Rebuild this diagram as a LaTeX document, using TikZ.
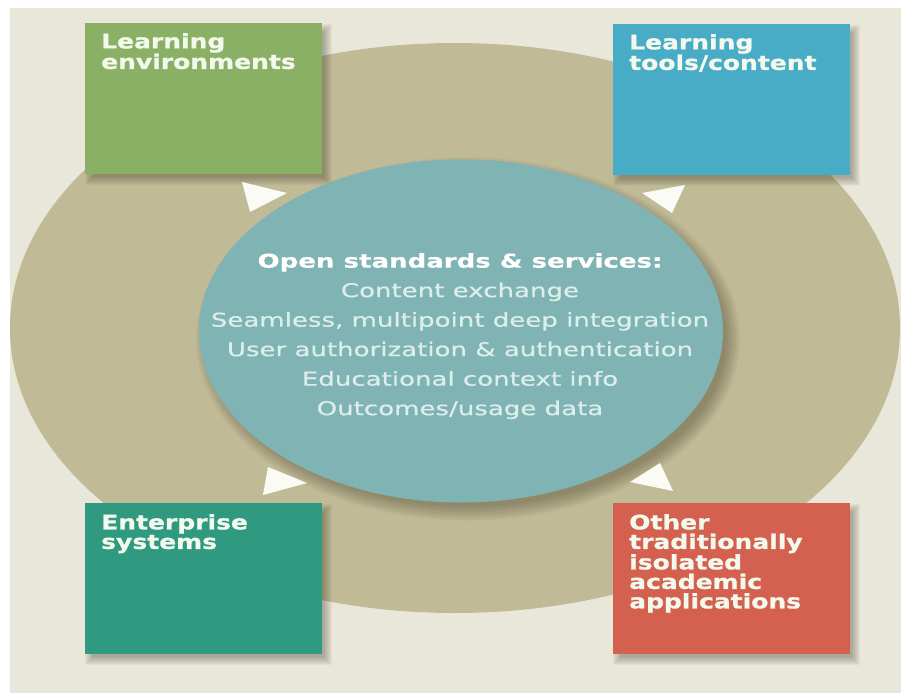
\documentclass[tikz,border=0pt]{standalone}
\usepackage{fontspec}
\newfontfamily\diafont[FakeStretch=1.37,FakeBold=0.6]{DejaVu Sans}
\newfontfamily\boxfont[FakeStretch=1.25,FakeBold=1.0]{DejaVu Sans}
\usetikzlibrary{shapes.geometric}
\pgfdeclarelayer{background}
\pgfsetlayers{background,main}
\definecolor{bgwhite}{HTML}{FFFFFF}
\definecolor{beige}{HTML}{E9E6DA}
\definecolor{ringolive}{HTML}{C0BA97}
\definecolor{hubteal}{HTML}{80B3B3}
\definecolor{envgreen}{HTML}{8AB066}
\definecolor{toolblue}{HTML}{49ACC7}
\definecolor{entteal}{HTML}{2F9A80}
\definecolor{othred}{HTML}{D4604F}
\definecolor{boxtextcol}{HTML}{F3F9EC}
\definecolor{hubtextcol}{HTML}{DCEEEB}
\definecolor{tipwhite}{HTML}{FBFBF6}
\definecolor{shadowcol}{HTML}{3A3520}
\newcommand\boxshadow[1]{%
  \foreach \g in {-3,-2,...,5}
    \fill[shadowcol, opacity=0.045]
      ([shift={(5-\g,6-\g)}]#1.north west) rectangle ([shift={(5+\g,6+\g)}]#1.south east);}
\begin{document}
\begin{tikzpicture}[x=1pt,y=-1pt,
  box/.style={rectangle, minimum width=237pt, minimum height=151pt, inner sep=0pt, anchor=north west},
  boxtext/.style={anchor=north west, inner sep=0pt, align=left, text=boxtextcol,
    font=\boxfont\bfseries\fontsize{20}{19.5}\selectfont},
  tip/.style={fill=tipwhite}
]
\useasboundingbox (0,0) rectangle (901,693);
\begin{pgfonlayer}{background}
\fill[bgwhite] (0,0) rectangle (901,693);
\fill[beige] (10,8) rectangle (901,693);
\node[ellipse, fill=ringolive, minimum width=890pt, minimum height=570pt, inner sep=0pt] (ring) at (455,328) {};
\end{pgfonlayer}
\node[ellipse, fill=hubteal, minimum width=524pt, minimum height=343pt, inner sep=0pt] (hub) at (461,331) {};
\node[box, fill=envgreen] (env) at (85,23) {};
\node[box, fill=toolblue] (tools) at (613,24) {};
\node[box, fill=entteal] (ent) at (85,503) {};
\node[box, fill=othred] (other) at (613,503) {};
\begin{pgfonlayer}{background}
\foreach \g in {-4,-2,...,10}
  \fill[shadowcol, opacity=0.05] ([shift={(7,8)}]hub.center) ellipse [x radius=262pt+\g pt, y radius=171.5pt+\g pt];
\boxshadow{env}
\boxshadow{tools}
\boxshadow{ent}
\boxshadow{other}
\end{pgfonlayer}
\node[boxtext] (envt) at ([xshift=16pt,yshift=-10pt]env.north west) {Learning\\environments};
\node[boxtext] (toolst) at ([xshift=16pt,yshift=-10pt]tools.north west) {Learning\\tools/content};
\node[boxtext] (entt) at ([xshift=16pt,yshift=-11pt]ent.north west) {Enterprise\\systems};
\node[boxtext] (othert) at ([xshift=16pt,yshift=-11pt]other.north west) {Other\\traditionally\\isolated\\academic\\applications};
\node[anchor=north, inner sep=0pt, align=center, text=hubtextcol,
  font=\diafont\fontsize{19}{29.5}\selectfont] (hubtext) at (460,253)
  {{\bfseries\color{white}Open standards \& services:}\\Content exchange\\Seamless, multipoint deep integration\\User authorization \& authentication\\Educational context info\\Outcomes/usage data};
\fill[tip] (242,182) -- (287,193) -- (250,212) -- cycle;
\fill[tip] (642,193) -- (685,185) -- (672,213) -- cycle;
\fill[tip] (268,467) -- (307,483) -- (263,495) -- cycle;
\fill[tip] (630,482) -- (660,463) -- (673,491) -- cycle;
\end{tikzpicture}
\end{document}
